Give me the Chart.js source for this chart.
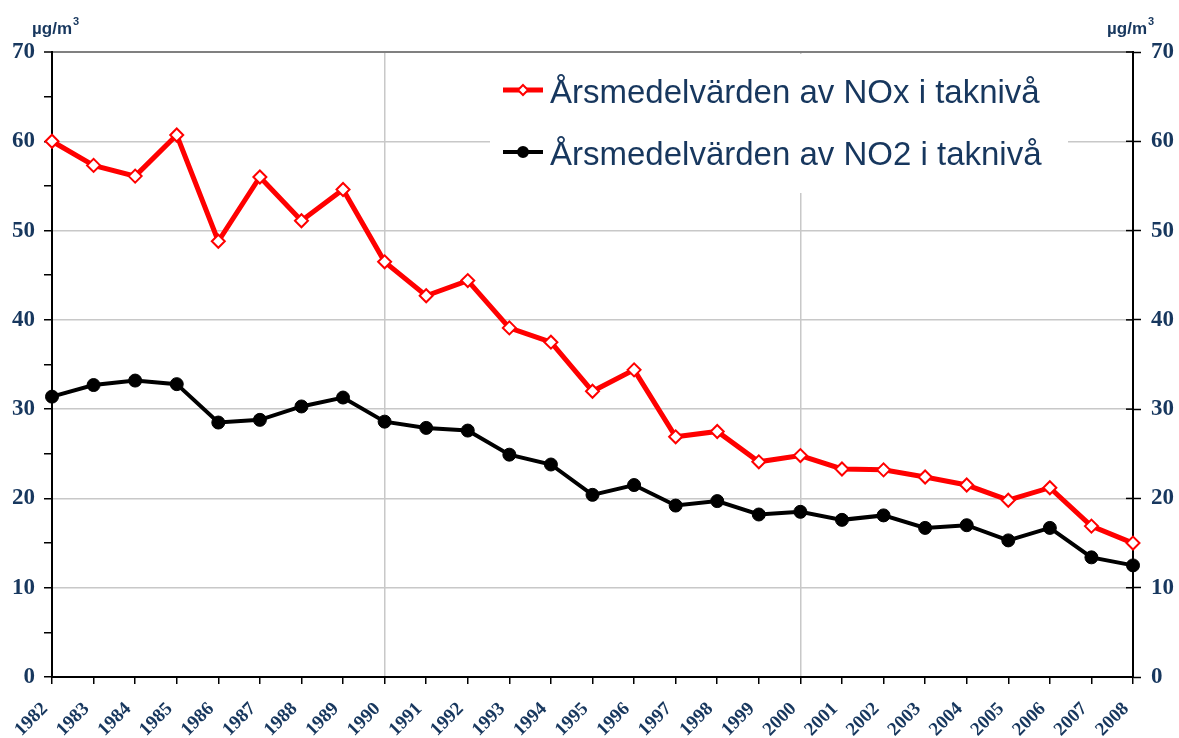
<!DOCTYPE html>
<html>
<head>
<meta charset="utf-8">
<script src="https://cdn.jsdelivr.net/npm/chart.js@4"></script>
<style>
  html, body { margin: 0; padding: 0; background: #fff; }
  #wrap { width: 1179px; height: 738px; }
</style>
</head>
<body>
<div id="wrap"><canvas id="myChart" width="1179" height="738"></canvas></div>
<script>
const years = ['1982', '1983', '1984', '1985', '1986', '1987', '1988', '1989', '1990', '1991', '1992', '1993', '1994',
    '1995', '1996', '1997', '1998', '1999', '2000', '2001', '2002', '2003', '2004', '2005', '2006', '2007', '2008'];
const noxValues = [60.0, 57.3, 56.1, 60.7, 48.8, 56.0, 51.1, 54.6, 46.5, 42.7, 44.4, 39.1, 37.5,
    32.0, 34.4, 26.9, 27.5, 24.1, 24.8, 23.3, 23.2, 22.4, 21.5, 19.8, 21.2, 16.9, 15.0];
const no2Values = [31.4, 32.7, 33.2, 32.8, 28.5, 28.8, 30.3, 31.3, 28.6, 27.9, 27.6, 24.9, 23.8,
    20.4, 21.5, 19.2, 19.7, 18.2, 18.5, 17.6, 18.1, 16.7, 17.0, 15.3, 16.7, 13.4, 12.5];
const noxLabel = 'Årsmedelvärden av NOx i taknivå';
const no2Label = 'Årsmedelvärden av NO2 i taknivå';
const unitText = 'µg/m';

const navy = '#17375E';

// legend box + unit labels drawn by hand, like the original
const extras = {
    id: 'extras',
    beforeDatasetsDraw(chart) {
        const ctx = chart.ctx;
        ctx.save();
        ctx.fillStyle = '#fff';
        ctx.fillRect(490, 54, 578, 139);
        // right axis ticks also poke into the plot
        const y2 = chart.scales.y2;
        ctx.strokeStyle = '#000';
        ctx.lineWidth = 1.5;
        y2.ticks.forEach(t => {
            const py = y2.getPixelForValue(t.value);
            ctx.beginPath();
            ctx.moveTo(y2.left - 7, py);
            ctx.lineTo(y2.left, py);
            ctx.stroke();
        });
        ctx.restore();
    },
    afterDatasetsDraw(chart) {
        const ctx = chart.ctx;
        ctx.save();
        const rows = [{ y: 90, ds: chart.data.datasets[0] }, { y: 152, ds: chart.data.datasets[1] }];
        rows.forEach(r => {
            ctx.strokeStyle = r.ds.borderColor;
            ctx.lineWidth = r.ds.borderWidth;
            ctx.beginPath();
            ctx.moveTo(503, r.y);
            ctx.lineTo(543, r.y);
            ctx.stroke();
            ctx.fillStyle = r.ds.pointBackgroundColor;
            ctx.strokeStyle = r.ds.pointBorderColor;
            ctx.lineWidth = 2;
            ctx.beginPath();
            if (r.ds.pointStyle === 'rectRot') {
                ctx.moveTo(523, r.y - 5); ctx.lineTo(528, r.y); ctx.lineTo(523, r.y + 5); ctx.lineTo(518, r.y);
                ctx.closePath();
            } else {
                ctx.arc(523, r.y, 5, 0, Math.PI * 2);
            }
            ctx.fill();
            ctx.stroke();
            ctx.fillStyle = navy;
            ctx.font = '33px "Liberation Sans", Arial, sans-serif';
            ctx.textBaseline = 'alphabetic';
            ctx.fillText(r.ds.label, 550, r.y + 13);
        });

        // units
        ctx.fillStyle = navy;
        [32, 1107].forEach(x => {
            ctx.font = 'bold 17px "Liberation Sans", Arial, sans-serif';
            ctx.fillText(unitText, x, 34);
            const w = ctx.measureText(unitText).width;
            ctx.font = 'bold 11px "Liberation Sans", Arial, sans-serif';
            ctx.fillText('3', x + w + 1, 25);
        });
        ctx.restore();
    }
};

const dataChart = {
    labels: years,
    datasets: [{
        label: noxLabel,
        data: noxValues,
        borderColor: '#FF0000',
        borderWidth: 5,
        pointStyle: 'rectRot',
        pointRadius: 6.5,
        pointBorderWidth: 2,
        pointBackgroundColor: '#FFFFFF',
        pointBorderColor: '#FF0000',
        tension: 0,
        order: 2
    }, {
        label: no2Label,
        data: no2Values,
        borderColor: '#000000',
        borderWidth: 4,
        pointStyle: 'circle',
        pointRadius: 6.5,
        pointBorderWidth: 1,
        pointBackgroundColor: '#000000',
        pointBorderColor: '#000000',
        tension: 0,
        order: 1
    }]
};

const tickFont = { family: '"Liberation Serif", "Times New Roman", serif', weight: 'bold', size: 23 };

const config = {
    type: 'line',
    data: dataChart,
    plugins: [extras],
    options: {
        responsive: false,
        animation: false,
        layout: { padding: { top: 52, right: 0, left: 0, bottom: 0 } },
        plugins: {
            legend: { display: false },
            tooltip: { enabled: false }
        },
        scales: {
            x: {
                offset: false,
                border: { color: '#000', width: 2 },
                grid: {
                    color: c => (c.index === 8 || c.index === 18) ? '#C8C8C8' : 'rgba(0,0,0,0)',
                    lineWidth: 1.5,
                    tickColor: '#000',
                    tickLength: 7,
                    tickWidth: 1.5
                },
                ticks: {
                    autoSkip: false,
                    maxRotation: 45,
                    minRotation: 45,
                    padding: 14,
                    labelOffset: -7,
                    color: navy,
                    font: { family: '"Liberation Serif", "Times New Roman", serif', weight: 'bold', size: 19 }
                },
                afterFit: s => { s.height = 61; }
            },
            y: {
                position: 'left',
                min: 0,
                max: 70,
                border: { color: '#000', width: 2 },
                grid: {
                    color: c => {
                        const v = c.tick ? c.tick.value : 0;
                        if (v === 70) return '#808080';
                        if (v === 0 || v % 10 !== 0) return 'rgba(0,0,0,0)';
                        return '#C8C8C8';
                    },
                    lineWidth: c => (c.tick && c.tick.value === 70) ? 2 : 1.5,
                    tickColor: '#000',
                    tickLength: 8,
                    tickWidth: 1.5
                },
                ticks: {
                    stepSize: 5,
                    padding: 9,
                    color: navy,
                    font: tickFont,
                    callback: v => v % 10 === 0 ? v : ''
                },
                afterFit: s => { s.width = 52; }
            },
            y2: {
                position: 'right',
                min: 0,
                max: 70,
                border: { color: '#000', width: 2 },
                grid: {
                    drawOnChartArea: false,
                    tickColor: '#000',
                    tickLength: 8,
                    tickWidth: 1.5
                },
                ticks: {
                    stepSize: 10,
                    padding: 10,
                    color: navy,
                    font: tickFont
                },
                afterFit: s => { s.width = 46; }
            }
        }
    }
};

const myChart = new Chart(
    document.getElementById('myChart'),
    config
);
</script>
</body>
</html>
